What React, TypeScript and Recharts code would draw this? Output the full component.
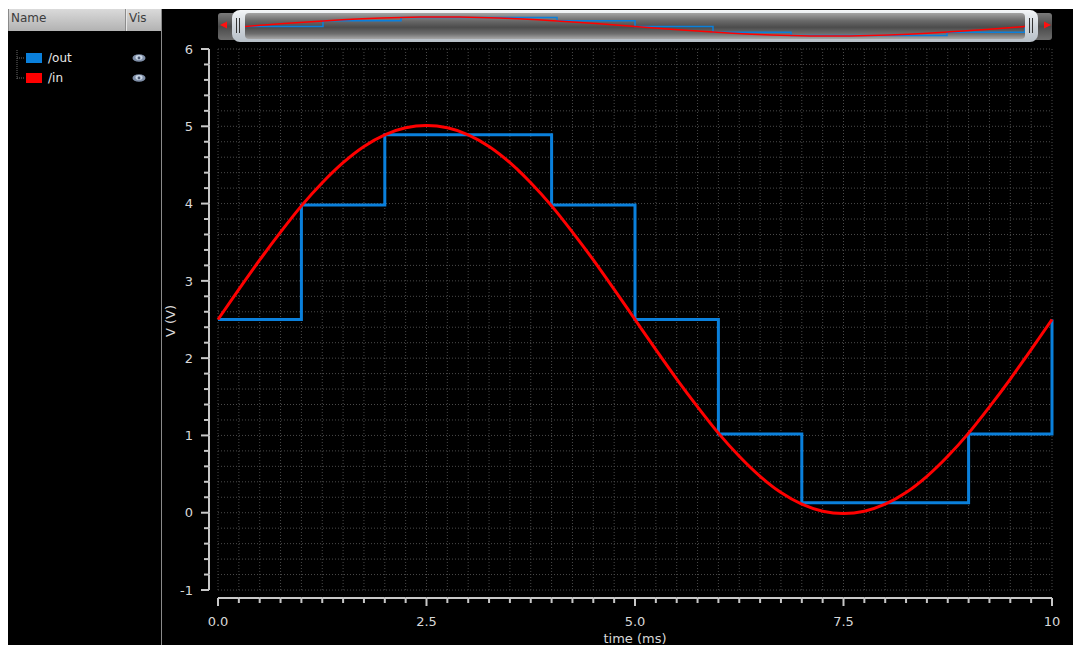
import { CartesianGrid, Legend, Line, LineChart, XAxis, YAxis } from "recharts";

// samples
const inTime = [0, 0.25, 0.5, 0.75, 1, 1.25, 1.5, 1.75, 2, 2.25, 2.5, 2.75, 3, 3.25, 3.5, 3.75, 4, 4.25, 4.5, 4.75, 5, 5.25, 5.5, 5.75, 6, 6.25, 6.5, 6.75, 7, 7.25, 7.5, 7.75, 8, 8.25, 8.5, 8.75, 9, 9.25, 9.5, 9.75, 10];
const inVolts = [2.5, 2.89, 3.27, 3.63, 3.97, 4.27, 4.53, 4.74, 4.89, 4.98, 5.01, 4.98, 4.89, 4.74, 4.53, 4.27, 3.97, 3.63, 3.27, 2.89, 2.5, 2.11, 1.73, 1.37, 1.03, 0.73, 0.47, 0.26, 0.11, 0.02, -0.01, 0.02, 0.11, 0.26, 0.47, 0.73, 1.03, 1.37, 1.73, 2.11, 2.5];

// quantized output: value holds from each time until the next one
const outTime = [0, 1, 2, 4, 5, 6, 7, 9, 10];
const outVolts = [2.5, 3.98, 4.89, 3.98, 2.5, 1.02, 0.13, 1.02, 2.5];

const signalNames = ["/out", "/in"];
const xMajor = [0, 2.5, 5, 7.5, 10];
const xTickLabels = ["0.0", "2.5", "5.0", "7.5", "10"];
const yMajor = [-1, 0, 1, 2, 3, 4, 5, 6];
const yTickLabels = ["-1", "0", "1", "2", "3", "4", "5", "6"];
const xTicks = Array.from({ length: 41 }, (_, i) => i * 0.25);
const yTicks = Array.from({ length: 36 }, (_, i) => Math.round((-1 + i * 0.2) * 10) / 10);

const inData = inTime.map((t, i) => ({ t, v: inVolts[i] }));
const outData = outTime.map((t, i) => ({ t, v: outVolts[i] }));

const BLUE = "#0a80dc";
const RED = "#ff0000";
const AXIS = "#c8c8c8";
const TEXT = "#d8d8d8";
const GRID = "#4a4a4a";
const FONT = "'DejaVu Sans', sans-serif";

const W = 1065;
const H = 636;
const PLOT_L = 210;
const PLOT_R = 1044;
const PLOT_T = 40;
const PLOT_B = 581;
const STEP_X = (PLOT_R - PLOT_L) / 40;
const STEP_Y = (PLOT_B - PLOT_T) / 35;

function XTick({ x, y, payload, index }: any) {
  const k = xMajor.indexOf(payload.value);
  const ay = y + 8;
  return (
    <g>
      {index > 0 && <line x1={x - STEP_X} x2={x} y1={ay} y2={ay} stroke={AXIS} strokeWidth={2} />}
      <line x1={x} x2={x} y1={ay} y2={ay + (k >= 0 ? 8 : 5)} stroke={AXIS} strokeWidth={2} />
      {k >= 0 && (
        <text x={x} y={y + 36} textAnchor="middle" fill={TEXT} fontSize={13} fontFamily={FONT}>
          {xTickLabels[k]}
        </text>
      )}
    </g>
  );
}

function YTick({ x, y, payload, index }: any) {
  const k = yMajor.indexOf(payload.value);
  const ax = x - 9;
  return (
    <g>
      {index > 0 && <line x1={ax} x2={ax} y1={y} y2={y + STEP_Y} stroke={AXIS} strokeWidth={2} />}
      <line x1={ax} x2={ax - (k >= 0 ? 8 : 5)} y1={y} y2={y} stroke={AXIS} strokeWidth={2} />
      {k >= 0 && (
        <text x={x - 25} y={y} dy="0.36em" textAnchor="end" fill={TEXT} fontSize={13} fontFamily={FONT}>
          {yTickLabels[k]}
        </text>
      )}
    </g>
  );
}

const renderLegend = (props: any) => {
  const items = [...(props.payload ?? [])].sort(
    (a: any, b: any) => signalNames.indexOf(a.value) - signalNames.indexOf(b.value)
  );
  return (
    <div style={{ position: "relative", width: 150, height: 40, fontFamily: FONT }}>
      <svg width={30} height={40} style={{ position: "absolute", left: 0, top: 0 }}>
        <line x1={9} y1={2} x2={9} y2={32} stroke="#6a6a6a" strokeDasharray="1 1" />
        {items.map((_: any, i: number) => (
          <line key={i} x1={9} y1={10 + i * 20} x2={17} y2={10 + i * 20} stroke="#6a6a6a" strokeDasharray="1 1" />
        ))}
      </svg>
      {items.map((it: any, i: number) => (
        <div key={it.value} style={{ position: "absolute", left: 0, top: i * 20, width: 150, height: 20 }}>
          <div style={{ position: "absolute", left: 18, top: 5, width: 16, height: 10, background: it.color }} />
          <span style={{ position: "absolute", left: 40, top: 2, fontSize: 12, lineHeight: "16px", color: "#e8e8e8" }}>
            {it.value}
          </span>
          <svg width={14} height={10} style={{ position: "absolute", left: 124, top: 5 }}>
            <ellipse cx={7} cy={5} rx={6.5} ry={3.8} fill="#7f8fa8" />
            <ellipse cx={7} cy={4.5} rx={3.5} ry={2.4} fill="#c9d6e6" />
            <circle cx={7} cy={5} r={1.4} fill="#4a5870" />
          </svg>
        </div>
      ))}
    </div>
  );
};

function Scrollbar() {
  const grip = (left: number) => (
    <>
      <div style={{ position: "absolute", left, top: 9, width: 1, height: 15, background: "#333" }} />
      <div style={{ position: "absolute", left: left + 3, top: 9, width: 1, height: 15, background: "#333" }} />
    </>
  );
  const btn = "linear-gradient(#7a7a7a, #4a4a4a 50%, #6e6e6e)";
  return (
    <>
      <div style={{ position: "absolute", left: 210, top: 4, width: 16, height: 27, background: btn, borderRadius: "3px 0 0 3px" }} />
      <svg width={10} height={10} style={{ position: "absolute", left: 211, top: 11 }}>
        <polygon points="1,5 8,1.5 8,8.5" fill="#ff1010" />
      </svg>
      <div style={{ position: "absolute", left: 1028, top: 4, width: 16, height: 27, background: btn, borderRadius: "0 3px 3px 0" }} />
      <svg width={10} height={10} style={{ position: "absolute", left: 1034, top: 11 }}>
        <polygon points="9,5 2,1.5 2,8.5" fill="#ff1010" />
      </svg>
      <div
        style={{
          position: "absolute",
          left: 224,
          top: 1,
          width: 806,
          height: 32,
          borderRadius: 8,
          background: "linear-gradient(#f4f6f8, #d2d8de 45%, #b8c0c8)",
        }}
      />
      <div
        style={{
          position: "absolute",
          left: 237,
          top: 4,
          width: 780,
          height: 26,
          borderRadius: 4,
          background: "linear-gradient(#a4a4a4, #6a6a6a 30%, #4c4c4c 55%, #6e6e6e 80%, #a8a8a8)",
        }}
      />
      {grip(228)}
      {grip(1021)}
      <div style={{ position: "absolute", left: 237, top: 7 }}>
        <LineChart width={780} height={21} margin={{ top: 0, right: 0, bottom: 0, left: 0 }}>
          <XAxis type="number" dataKey="t" domain={[0, 10]} hide />
          <YAxis type="number" domain={[-0.26, 5.26]} hide />
          <Line data={outData} dataKey="v" type="stepAfter" stroke={BLUE} strokeWidth={1.5} dot={false} isAnimationActive={false} />
          <Line data={inData} dataKey="v" type="monotone" stroke={RED} strokeWidth={1.5} dot={false} isAnimationActive={false} />
        </LineChart>
      </div>
    </>
  );
}

export default function App() {
  return (
    <div style={{ position: "fixed", left: 8, top: 9, width: W, height: H, background: "#000", overflow: "hidden", fontFamily: FONT }}>
      {/* signal list panel */}
      <div
        style={{
          position: "absolute",
          left: 0,
          top: 0,
          width: 153,
          height: 22,
          background: "linear-gradient(#dadada, #b2b2b2)",
          borderLeft: "1px solid #8a8a8a",
          boxSizing: "border-box",
          fontSize: 12,
          color: "#3c3c3c",
        }}
      >
        <span style={{ position: "absolute", left: 2, top: 2 }}>Name</span>
        <div style={{ position: "absolute", left: 116, top: 0, width: 1, height: 22, background: "#8c8c8c" }} />
        <div style={{ position: "absolute", left: 117, top: 0, width: 1, height: 22, background: "#e6e6e6" }} />
        <span style={{ position: "absolute", left: 120, top: 2 }}>Vis</span>
      </div>
      <div style={{ position: "absolute", left: 153, top: 0, width: 1, height: H, background: "#8a8a8a" }} />
      <Scrollbar />
      <div style={{ position: "absolute", left: 0, top: 0 }}>
        <LineChart width={W} height={H} margin={{ top: PLOT_T, right: W - PLOT_R, bottom: 0, left: PLOT_L - 40 }}>
          <CartesianGrid stroke={GRID} strokeDasharray="1 2" />
          <XAxis
            type="number"
            dataKey="t"
            domain={[0, 10]}
            ticks={xTicks}
            interval={0}
            height={H - PLOT_B}
            axisLine={false}
            tickLine={false}
            tickSize={0}
            tickMargin={0}
            tick={<XTick />}
            label={{
              content: () => (
                <text x={(PLOT_L + PLOT_R) / 2} y={634} textAnchor="middle" fill={TEXT} fontSize={13} fontFamily={FONT}>
                  time (ms)
                </text>
              ),
            }}
          />
          <YAxis
            type="number"
            domain={[-1, 6]}
            ticks={yTicks}
            interval={0}
            width={40}
            axisLine={false}
            tickLine={false}
            tickSize={0}
            tickMargin={0}
            tick={<YTick />}
            label={{
              content: () => (
                <text
                  x={162}
                  y={312}
                  transform="rotate(-90 162 312)"
                  textAnchor="middle"
                  dy="0.36em"
                  fill={TEXT}
                  fontSize={13}
                  fontFamily={FONT}
                >
                  V (V)
                </text>
              ),
            }}
          />
          <Legend
            layout="vertical"
            align="center"
            verticalAlign="middle"
            content={renderLegend}
            wrapperStyle={{ position: "absolute", left: 0, top: 39, width: 150 }}
          />
          <Line data={outData} dataKey="v" name="/out" type="stepAfter" stroke={BLUE} strokeWidth={3} dot={false} isAnimationActive={false} />
          <Line data={inData} dataKey="v" name="/in" type="monotone" stroke={RED} strokeWidth={3} dot={false} isAnimationActive={false} />
        </LineChart>
      </div>
    </div>
  );
}
